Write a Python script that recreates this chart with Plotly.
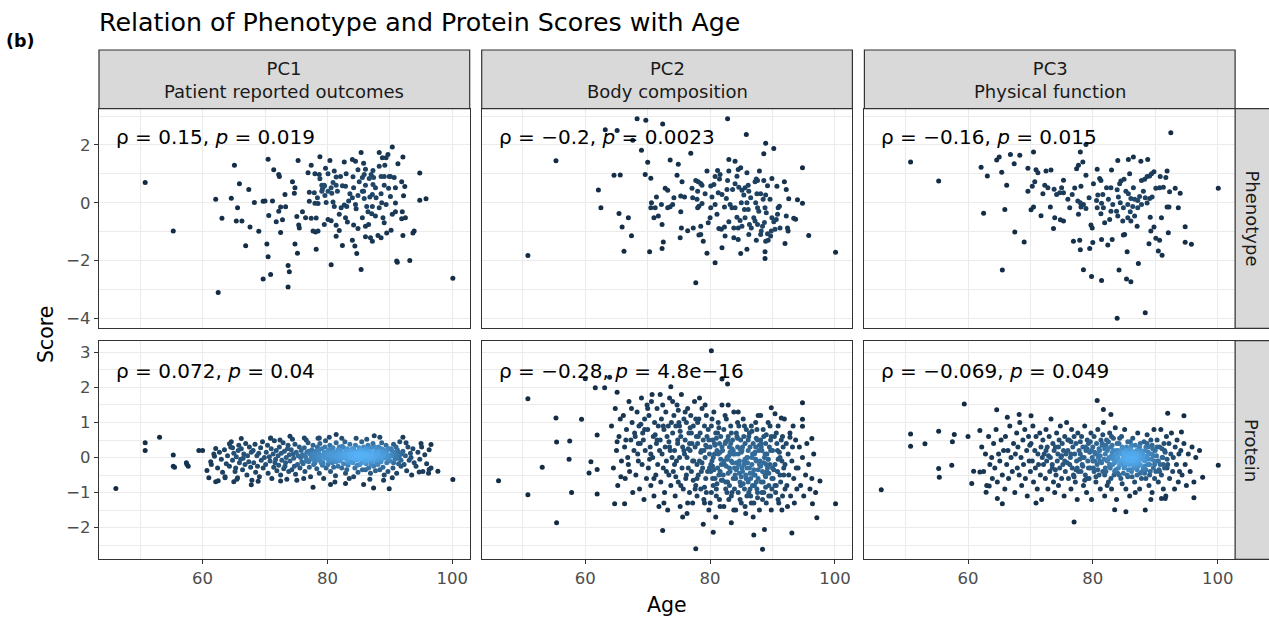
import numpy as np
import plotly.graph_objects as go

# ------------------------------------------------------------------ data
TITLE = "Relation of Phenotype and Protein Scores with Age"
PANEL_TAG = "(b)"
COLUMN_TITLES = [("PC1", "Patient reported outcomes"), ("PC2", "Body composition"), ("PC3", "Physical function")]
ROW_TITLES = ["Phenotype", "Protein"]
STATS = [["ρ = 0.15, <i>p</i> = 0.019", "ρ = −0.2, <i>p</i> = 0.0023", "ρ = −0.16, <i>p</i> = 0.015"],
         ["ρ = 0.072, <i>p</i> = 0.04", "ρ = −0.28, <i>p</i> = 4.8e−16", "ρ = −0.069, <i>p</i> = 0.049"]]
X_LABEL = "Age"
Y_LABEL = "Score"
X_TICKS = [60, 80, 100]
X_MINOR = [50, 70, 90]
Y_TICKS = [[-4, -2, 0, 2], [-2, -1, 0, 1, 2, 3]]
Y_MINOR = [[-3, -1, 1, 3], [-2.5, -1.5, -0.5, 0.5, 1.5, 2.5]]

# (age, score) pairs
PHENO_PC1 = [(50.8,0.70),(55.3,-0.98),(62.5,-3.11),(62.1,0.12),(63.1,-0.54),(65.1,1.30),(64.6,0.16),(65.6,-0.17),(65.9,0.66),(65.4,-0.63),(66.3,-0.63),(67.4,0.46),(67.6,-0.84),(66.9,-1.49),(68.3,0.01),(69.0,-0.99),(69.7,0.05),(70.0,0.06),(71.2,0.06),(70.5,1.51),(71.4,1.14),(72.2,0.98),(72.3,0.91),(70.6,-0.44),(70.3,-1.43),(70.5,-1.87),(69.7,-2.64),(70.9,-2.48),(71.8,-0.66),(72.2,-0.29),(72.5,-0.15),(73.3,-0.14),(72.8,-0.59),(72.5,-1.03),(73.2,0.29),(74.4,0.73),(74.8,0.52),(74.7,0.33),(73.7,-2.17),(73.9,-2.39),(73.7,-2.92),(74.8,-1.43),(75.2,-1.75),(75.3,1.46),(75.1,-0.48),(75.4,-0.77),(75.5,-0.87),(76.0,-0.31),(76.5,-0.52),(77.4,1.30),(76.9,1.04),(77.1,0.05),(77.4,-0.54),(78.2,-0.53),(77.7,-0.98),(78.1,-1.01),(78.5,-0.98),(78.2,-1.61),(78.8,1.59),(78.0,1.00),(78.7,0.98),(78.8,0.83),(79.7,1.19),(80.1,1.00),(80.4,1.46),(77.9,0.35),(78.4,0.17),(78.0,-0.02),(78.5,-0.03),(79.2,0.48),(79.1,0.61),(79.5,0.57),(79.8,0.01),(80.1,-0.58),(79.5,-0.75),(80.6,-0.62),(81.4,-0.78),(81.4,-1.16),(80.6,-2.15),(81.1,1.10),(81.4,0.89),(80.9,0.70),(80.1,0.40),(80.7,0.33),(81.4,0.61),(81.6,0.40),(80.9,0.03),(81.1,-0.13),(81.9,-0.40),(82.2,-0.17),(82.4,-1.48),(82.7,1.41),(83.0,1.00),(82.4,0.59),(82.9,0.57),(82.7,-0.08),(82.9,-0.52),(83.2,-0.67),(83.1,-0.13),(84.0,1.50),(84.5,1.44),(84.9,1.14),(85.4,1.74),(85.8,1.37),(86.1,1.16),(85.6,0.87),(85.1,0.73),(84.2,0.52),(84.9,0.25),(84.5,-0.06),(84.6,-0.21),(84.2,-0.77),(84.9,-0.89),(84.0,-1.30),(84.4,-1.50),(84.7,-1.76),(85.4,-2.31),(85.6,0.40),(86.1,0.61),(85.9,0.15),(85.6,-0.52),(86.1,-0.81),(86.6,-0.75),(86.1,-1.18),(86.9,-1.21),(87.2,-1.33),(86.5,-0.31),(87.1,-0.38),(87.7,-0.46),(86.8,0.20),(87.2,-0.13),(87.0,0.98),(87.3,1.12),(86.7,0.84),(87.3,0.63),(87.7,0.52),(87.2,0.29),(88.3,1.74),(88.8,1.56),(89.4,1.56),(89.7,1.67),(89.2,1.30),(88.3,1.26),(88.6,0.91),(89.1,0.91),(88.6,0.31),(88.7,0.00),(88.3,-0.17),(88.9,-0.52),(89.1,-0.69),(88.1,-1.13),(88.6,-1.21),(89.5,-1.05),(90.2,-0.95),(90.4,1.93),(89.9,0.91),(90.7,0.87),(89.8,0.50),(90.1,0.22),(90.9,0.52),(90.9,-0.01),(90.9,-0.31),(91.3,1.35),(92.1,1.58),(91.9,0.73),(92.4,0.56),(92.2,0.24),(92.0,-0.31),(91.9,-0.55),(92.5,-0.52),(92.1,-1.13),(91.1,-2.02),(91.2,-2.06),(93.2,-2.00),(93.9,-0.98),(93.7,-1.05),(94.8,1.03),(94.8,0.09),(95.8,0.14),(100.1,-2.61),(84.1,0.90),(83.6,0.31),(84.0,0.17),(87.8,0.17),(85.9,0.98),(79.6,0.25),(77.1,0.36),(80.6,0.52),(82.1,0.91),(83.4,0.06),(89.1,0.61),(90.1,0.91),(89.4,-0.06),(87.4,0.87),(90.4,-0.40),(81.9,-0.96),(85.8,0.40),(79.1,0.40),(79.5,0.61),(86.3,-0.13)]

PHENO_PC2 = [(50.8,-1.83),(55.3,1.45),(62.1,0.44),(62.5,-0.17),(63.2,2.53),(65.1,2.50),(64.6,0.95),(65.6,0.96),(65.4,-0.37),(66.9,-0.52),(65.9,-0.84),(67.4,-1.14),(66.2,-1.68),(67.6,2.16),(68.3,2.91),(69.7,2.86),(69.0,1.82),(70.0,1.40),(69.6,0.98),(70.5,0.85),(72.4,2.73),(70.3,-1.70),(72.3,-1.58),(72.5,-1.36),(72.3,-0.75),(71.4,0.20),(70.6,0.00),(70.5,-0.17),(71.0,-0.52),(71.2,-0.17),(71.7,-0.46),(72.2,-0.06),(72.8,0.50),(73.2,0.43),(73.2,-0.17),(73.6,-0.14),(74.0,-0.06),(74.2,0.17),(73.6,1.48),(74.9,1.33),(74.7,0.95),(75.3,0.23),(75.9,0.20),(75.5,0.73),(75.3,-0.31),(75.4,-0.87),(75.2,-1.21),(76.4,-0.97),(77.3,-0.87),(76.9,1.71),(77.2,0.17),(77.1,0.50),(77.7,0.77),(78.1,0.73),(78.5,0.67),(78.7,0.61),(78.0,0.40),(77.9,0.12),(78.2,-0.12),(78.0,-0.17),(78.7,-0.03),(78.5,-0.81),(78.2,-1.12),(78.5,-1.10),(78.9,-1.33),(79.5,-1.75),(77.7,-2.77),(80.8,-2.08),(81.9,-1.56),(80.1,-0.17),(80.0,-0.52),(79.7,-0.69),(79.2,0.31),(79.5,1.10),(80.1,0.58),(80.6,0.63),(80.8,0.91),(81.2,1.12),(81.6,0.98),(81.5,0.82),(81.9,0.29),(81.3,0.35),(81.1,-0.40),(81.4,-0.89),(81.8,-0.92),(82.4,-1.15),(82.8,2.91),(83.0,1.50),(83.0,1.10),(82.8,0.77),(82.7,0.46),(82.6,0.15),(83.2,-0.06),(83.5,-0.17),(83.0,-0.66),(83.8,-0.87),(83.8,-1.21),(84.5,-1.27),(84.9,-1.76),(84.0,1.44),(84.5,1.15),(84.9,1.21),(84.3,0.92),(84.0,0.66),(84.6,0.54),(85.1,0.43),(85.4,0.27),(85.0,0.00),(84.3,-0.50),(84.8,-0.61),(84.5,-0.87),(85.6,-0.52),(85.8,2.36),(85.9,1.04),(85.6,0.52),(86.1,0.61),(86.2,0.40),(86.5,0.17),(86.1,-0.23),(86.3,-0.75),(86.2,-1.10),(85.9,-1.61),(87.2,0.73),(87.4,0.82),(87.6,0.77),(87.9,1.10),(87.5,0.31),(87.3,0.00),(87.6,-0.17),(87.2,-0.63),(87.6,-0.75),(88.1,-1.10),(87.4,-1.30),(88.6,1.70),(88.9,2.06),(90.2,1.88),(88.6,0.77),(89.2,0.59),(88.9,0.27),(88.5,0.12),(88.8,-0.17),(89.0,-0.35),(88.7,-0.68),(88.4,-0.81),(89.2,-1.07),(88.9,-1.33),(89.3,-1.30),(88.8,-1.70),(88.8,-1.93),(89.9,0.84),(89.9,-0.52),(90.2,-0.66),(89.8,-0.98),(89.7,-1.15),(90.4,-0.92),(90.7,0.57),(90.9,-0.17),(91.1,-0.12),(90.8,-0.40),(90.6,-0.58),(91.2,-0.87),(91.9,0.73),(92.2,0.46),(92.2,-0.46),(92.4,-0.87),(92.5,-0.98),(92.0,-1.41),(92.6,0.14),(93.4,-0.54),(93.7,-0.57),(94.0,0.10),(94.8,-0.02),(94.8,1.21),(95.8,-1.13),(100.1,-1.71),(80.8,-0.06),(82.3,-0.15),(80.3,0.20),(84.0,-0.17),(85.5,-0.23),(87.8,-0.29),(87.0,-0.52),(83.6,0.46),(88.1,0.31),(89.6,0.12),(82.3,-0.84),(85.1,-0.81),(86.6,-0.87),(88.2,-0.98),(85.9,0.00)]

PHENO_PC3 = [(50.8,1.41),(55.3,0.75),(62.1,1.23),(63.1,0.93),(62.5,-0.36),(64.6,1.48),(65.0,1.58),(65.4,1.06),(66.2,0.61),(65.9,-0.23),(67.5,-1.01),(65.5,-2.33),(66.8,1.67),(67.4,1.35),(68.3,1.64),(69.0,-1.36),(69.6,1.19),(69.6,0.40),(70.3,0.57),(70.5,1.76),(70.9,1.14),(71.2,1.04),(70.7,0.73),(70.5,-0.15),(70.1,-0.24),(71.7,-0.45),(72.3,0.61),(72.5,1.10),(73.3,1.13),(72.0,0.31),(72.8,0.52),(73.2,-0.15),(73.8,0.47),(74.2,0.29),(74.7,0.35),(75.3,0.78),(75.0,0.52),(75.3,0.35),(73.9,-0.52),(74.8,-0.59),(75.3,-0.63),(73.7,-0.89),(76.0,0.12),(76.9,-1.33),(77.1,0.51),(77.4,1.18),(77.7,1.30),(78.0,1.76),(78.4,1.41),(78.9,0.95),(78.1,0.57),(77.6,0.06),(78.0,0.00),(78.1,-0.15),(78.5,-0.06),(78.9,-0.20),(77.7,-0.40),(77.9,-1.30),(78.0,-1.63),(78.9,2.02),(78.5,-2.32),(79.8,-2.55),(79.5,-1.58),(80.0,-1.38),(79.7,-0.77),(79.9,-0.87),(79.4,0.17),(80.1,0.66),(80.7,1.16),(81.1,0.84),(81.3,0.77),(80.8,0.27),(81.6,0.29),(81.4,-0.02),(80.7,-0.17),(81.7,-0.17),(81.3,-0.38),(81.9,-0.69),(82.7,-0.58),(81.4,-1.27),(82.4,-1.46),(83.1,-1.27),(81.4,-2.69),(83.0,1.13),(82.9,0.52),(82.5,0.12),(83.2,-0.06),(84.0,1.46),(84.3,0.66),(84.5,0.75),(83.9,0.45),(84.1,0.20),(84.4,0.00),(83.8,-0.29),(84.0,-0.46),(84.8,-0.63),(85.1,-1.10),(84.9,-1.12),(85.5,-1.70),(84.2,-2.33),(85.4,-2.64),(86.1,-2.73),(83.9,-4.00),(88.4,-3.81),(85.7,1.50),(86.5,1.58),(87.7,1.44),(88.8,1.50),(85.9,1.00),(85.0,0.81),(85.3,0.40),(85.7,0.31),(86.5,0.52),(86.1,0.15),(85.6,-0.06),(86.4,-0.13),(86.0,-0.31),(85.6,-0.52),(86.1,-0.63),(86.7,-0.46),(87.1,-0.81),(87.3,-2.10),(87.2,0.08),(87.5,0.22),(87.8,0.77),(88.3,0.81),(88.7,0.91),(89.1,0.93),(89.4,1.00),(89.8,1.07),(88.1,0.40),(88.4,0.17),(88.7,-0.01),(89.1,0.15),(89.5,0.20),(89.2,-0.50),(89.3,-0.98),(89.0,-1.42),(90.1,0.50),(90.7,0.52),(91.3,0.54),(90.8,0.91),(91.7,0.87),(91.9,1.10),(91.0,-0.52),(89.8,-0.84),(90.1,-1.23),(90.7,-1.30),(90.5,-1.67),(91.1,-1.82),(91.9,-0.15),(92.2,-0.15),(92.1,-1.04),(92.5,2.42),(92.3,0.38),(93.2,0.50),(94.0,0.33),(93.7,-0.17),(94.8,-0.83),(94.8,-1.37),(95.8,-1.44),(100.1,0.50),(87.2,-0.17),(87.8,-0.06),(82.9,-0.29),(82.2,0.52),(84.9,-0.17),(86.7,0.12),(80.6,0.08),(76.7,0.29),(76.3,-0.17)]

PROT_PC1 = [(46.1,-0.88),(50.8,0.42),(50.8,0.20),(53.1,0.58),(55.3,0.07),(55.3,-0.25),(55.5,-0.28),(57.4,-0.15),(57.7,-0.25),(57.5,-0.20),(59.4,0.20),(60.0,0.20),(60.7,-0.37),(61.0,-0.58),(61.4,-0.20),(62.1,0.26),(61.9,0.04),(62.1,-0.69),(62.5,-0.66),(63.6,-0.58),(64.3,0.39),(64.8,0.28),(65.0,-0.69),(65.6,-0.58),(66.2,0.54),(67.8,-0.78),(70.9,0.56),(72.5,-0.67),(74.0,0.61),(76.3,0.56),(77.7,-0.85),(78.7,0.56),(80.5,-0.77),(81.4,0.66),(82.9,-0.74),(85.8,-0.77),(87.4,-0.87),(87.5,0.62),(89.9,-0.89),(92.1,0.58),(96.6,0.37),(97.7,-0.39),(100.1,-0.63),(96.2,-0.45),(96.3,-0.34),(94.7,-0.41),
    (61.3,-0.12),(61.8,0.10),(62.4,-0.30),(62.7,0.15),(63.0,-0.05),(63.2,-0.42),(63.5,0.22),(63.8,-0.18),(64.0,0.05),(63.6,-0.55),
    (64.3,-0.25),(64.5,0.30),(64.8,-0.08),(65.0,0.12),(65.2,-0.40),(65.4,0.02),(65.5,-0.62),(65.7,0.20),(65.9,-0.15),(64.6,0.45),(65.3,-0.30),(65.8,0.35),
    (66.1,-0.05),(66.2,0.25),(66.4,-0.35),(66.6,0.10),(66.8,-0.20),(66.9,0.40),(67.1,-0.50),(67.2,0.05),(67.4,-0.12),(67.5,0.30),(67.7,-0.28),(67.8,0.15),(67.9,-0.65),(66.5,-0.02),
    (68.1,0.20),(68.2,-0.15),(68.4,0.38),(68.5,-0.42),(68.7,0.05),(68.8,-0.25),(69.0,0.12),(69.1,-0.55),(69.3,0.28),(69.4,-0.08),(69.6,0.45),(69.7,-0.30),(69.9,0.00),(68.9,-0.68),
    (70.1,-0.20),(70.2,0.15),(70.4,0.35),(70.5,-0.45),(70.7,0.02),(70.8,-0.10),(71.0,0.25),(71.1,-0.60),(71.3,0.10),(71.4,-0.28),(71.5,0.48),(71.7,-0.05),(71.8,0.20),(71.9,-0.38),(70.9,0.55),(71.6,-0.15),
    (72.1,0.05),(72.2,-0.22),(72.3,0.30),(72.5,-0.50),(72.6,0.12),(72.7,-0.08),(72.9,0.42),(73.0,-0.32),(73.1,0.18),(73.3,-0.15),(73.4,0.00),(73.5,-0.62),(73.6,0.25),(73.8,-0.40),(73.9,0.08),(72.4,0.50),(73.2,-0.25),(73.7,0.35),
    (74.0,-0.10),(74.2,0.22),(74.3,-0.35),(74.5,0.10),(74.6,-0.02),(74.8,0.38),(74.9,-0.48),(75.0,0.15),(75.2,-0.20),(75.3,0.05),(75.5,0.30),(75.6,-0.30),(75.7,0.00),(75.9,-0.12),(74.4,0.52),(75.1,-0.65),(75.8,0.20),(74.7,-0.25),
    (76.0,0.08),(76.1,-0.18),(76.3,0.28),(76.4,-0.40),(76.5,0.02),(76.7,0.15),(76.8,-0.08),(76.9,0.42),(77.1,-0.28),(77.2,0.10),(77.3,-0.55),(77.5,0.22),(77.6,-0.05),(77.7,0.35),(77.8,-0.20),(77.9,0.00),(76.2,-0.60),(76.6,0.50),(77.0,-0.12),(77.4,0.05),
    (78.0,-0.15),(78.1,0.18),(78.2,0.05),(78.3,-0.32),(78.4,0.30),(78.5,-0.05),(78.6,0.12),(78.7,-0.45),(78.8,0.40),(78.9,-0.10),(79.0,0.02),(79.1,0.25),(79.2,-0.22),(79.3,0.08),(79.4,-0.60),(79.5,0.15),(79.6,-0.02),(79.7,0.48),(79.8,-0.30),(79.9,0.10),(78.5,0.55),(79.3,-0.15),
    (80.0,0.05),(80.1,-0.20),(80.2,0.22),(80.3,-0.05),(80.4,0.35),(80.5,-0.40),(80.6,0.10),(80.7,0.00),(80.8,-0.15),(80.9,0.28),(81.0,-0.28),(81.1,0.15),(81.2,0.05),(81.3,-0.52),(81.4,0.42),(81.5,-0.08),(81.6,0.18),(81.7,-0.25),(81.8,0.02),(81.9,0.30),(80.3,0.58),(81.2,-0.70),(80.8,0.12),(81.6,-0.02),
    (82.0,-0.10),(82.1,0.20),(82.2,0.05),(82.3,-0.30),(82.4,0.32),(82.5,0.00),(82.6,-0.18),(82.7,0.12),(82.8,0.45),(82.9,-0.45),(83.0,0.08),(83.1,-0.05),(83.2,0.25),(83.3,-0.22),(83.4,0.15),(83.5,-0.60),(83.6,0.38),(83.7,0.02),(83.8,-0.12),(83.9,0.18),(82.3,0.55),(82.9,-0.02),(83.4,0.10),(83.1,-0.35),(82.6,0.28),(83.8,0.05),
    (84.0,0.10),(84.1,-0.15),(84.2,0.25),(84.3,0.02),(84.4,-0.30),(84.5,0.35),(84.6,0.08),(84.7,-0.08),(84.8,0.18),(84.9,-0.42),(85.0,0.05),(85.1,0.28),(85.2,-0.20),(85.3,0.12),(85.4,-0.02),(85.5,0.45),(85.6,-0.35),(85.7,0.15),(85.8,0.00),(85.9,-0.12),(84.2,-0.55),(84.6,0.55),(85.0,-0.05),(85.3,0.22),(85.6,0.08),(84.8,-0.22),(85.8,0.30),(84.4,0.12),
    (86.0,0.05),(86.1,0.22),(86.2,-0.18),(86.3,0.12),(86.4,-0.05),(86.5,0.35),(86.6,-0.30),(86.7,0.18),(86.8,0.00),(86.9,-0.45),(87.0,0.28),(87.1,0.08),(87.2,-0.12),(87.3,0.40),(87.4,-0.25),(87.5,0.15),(87.6,0.02),(87.7,-0.38),(87.8,0.25),(87.9,-0.08),(86.3,0.52),(86.8,-0.62),(87.2,0.10),(87.6,0.30),(86.5,-0.10),(87.0,-0.20),(87.9,0.12),(86.1,-0.35),
    (88.0,0.10),(88.1,-0.20),(88.2,0.30),(88.3,0.00),(88.4,-0.35),(88.5,0.18),(88.6,-0.08),(88.7,0.42),(88.8,0.05),(88.9,-0.28),(89.0,0.22),(89.1,-0.50),(89.2,0.12),(89.3,-0.02),(89.4,0.35),(89.5,-0.15),(89.6,0.08),(89.7,-0.40),(89.8,0.25),(89.9,0.00),(88.4,0.58),(89.0,-0.65),(88.8,0.15),(89.5,0.20),
    (90.0,-0.10),(90.2,0.25),(90.3,0.05),(90.5,-0.30),(90.6,0.38),(90.8,-0.05),(90.9,0.15),(91.1,-0.45),(91.2,0.22),(91.4,-0.18),(91.5,0.02),(91.6,0.45),(91.8,-0.25),(91.9,0.10),(90.4,-0.58),(91.0,0.30),(91.3,-0.02),(90.7,0.12),
    (92.1,0.18),(92.3,-0.20),(92.5,0.05),(92.7,-0.38),(92.9,0.30),(93.1,-0.08),(93.3,0.12),(93.5,-0.50),(93.7,0.25),(93.9,-0.15),(92.6,0.42),(93.4,0.00),
    (94.2,-0.25),(94.5,0.15),(94.8,-0.05),(95.1,0.30),(95.3,-0.40),(95.6,0.08),(95.9,-0.18),(96.3,0.22),(96.6,-0.30),(95.0,0.40),
    (76.2,0.05),(76.6,-0.10),(77.0,0.18),(77.4,-0.02),(77.8,0.10),(78.2,-0.08),(78.6,0.20),(79.0,-0.15),(79.4,0.02),(79.8,0.15),(80.2,-0.10),(80.6,0.25),(81.0,0.08),(81.4,-0.12),(81.8,0.12),(82.2,-0.05),(82.6,0.05),(83.0,0.20),(83.4,-0.15),(83.8,0.08),(84.2,-0.02),(84.6,0.15),(85.0,0.00),(85.4,0.20),(85.8,-0.08),(86.2,0.10),(86.6,0.02),(87.0,0.15),(87.4,-0.05),(87.8,0.05),(88.2,0.12),(88.6,-0.12),(89.0,0.05),(89.4,0.18),(89.8,-0.05),(90.2,0.08),(90.6,-0.15),(91.0,0.05),(91.4,0.15),(91.8,-0.08),
    (80.0,0.15),(80.9,-0.05),(81.7,0.22),(82.4,0.10),(83.2,-0.08),(84.0,0.25),(84.7,0.05),(85.5,-0.15),(86.3,0.25),(87.1,-0.02),(87.9,-0.18),(88.7,0.25),(89.5,0.00),(90.3,0.20),(78.8,0.00),(79.6,0.30),(83.6,0.00),(85.2,0.10),(86.9,0.08),(88.4,0.02)]

PROT_PC2 = [(46.1,-0.66),(50.8,1.68),(50.8,-1.06),(53.1,-0.28),(55.3,1.13),(55.4,0.44),(55.4,-1.86),(57.5,0.47),(57.4,-0.05),(57.8,-1.00),(59.4,1.09),(60.0,2.25),(61.6,1.99),(63.1,1.99),(63.9,2.29),(65.1,1.86),(61.9,0.64),(60.9,-0.12),(60.6,-0.44),(61.9,-0.34),(61.9,-1.04),(64.7,-1.32),(66.3,-1.32),(72.4,-2.08),(77.7,-2.60),(80.2,3.05),(81.9,2.24),(82.8,2.10),(73.7,2.02),(80.5,-2.13),(83.4,-1.86),(87.0,-2.21),(88.7,-2.05),(88.4,-2.62),(93.1,-2.15),(100.1,-1.32),(97.1,-1.72),(97.6,-0.67),(96.4,-1.32),(96.3,0.54),(94.8,1.56),(94.8,1.09),(94.8,0.89),(92.8,0.58),(89.8,1.42),(90.4,1.25),(91.4,1.13),
    (64.2,0.9),(64.5,-0.3),(64.8,1.4),(65.0,0.2),(65.2,-0.8),(65.4,0.6),(65.6,1.1),(65.8,-0.1),(65.1,0.45),(65.7,-0.55),
    (66.1,1.2),(66.3,0.3),(66.4,-0.6),(66.6,0.8),(66.8,0.0),(67.0,1.6),(67.1,-0.4),(67.3,0.5),(67.5,1.0),(67.6,-1.0),(67.8,0.2),(67.9,0.7),(66.9,-0.2),(67.4,1.4),
    (68.0,0.6),(68.1,-0.5),(68.3,1.3),(68.4,0.1),(68.6,0.9),(68.7,-0.9),(68.8,0.4),(69.0,1.7),(69.1,-0.2),(69.2,0.7),(69.4,-1.2),(69.5,1.1),(69.6,0.2),(69.8,-0.6),(69.9,1.5),(68.5,-0.1),(69.3,0.5),(68.9,0.95),
    (70.0,0.8),(70.1,-0.3),(70.2,1.2),(70.4,0.3),(70.5,-0.8),(70.6,1.6),(70.8,0.0),(70.9,0.6),(71.0,-1.1),(71.1,1.0),(71.3,-0.5),(71.4,0.4),(71.5,1.4),(71.6,-0.2),(71.7,0.9),(71.8,-1.4),(71.9,0.2),(70.7,1.8),(71.2,0.65),(70.3,-0.05),
    (72.0,0.5),(72.1,-0.7),(72.2,1.1),(72.3,0.1),(72.4,1.5),(72.5,-0.3),(72.6,0.8),(72.7,-1.0),(72.8,0.3),(72.9,1.3),(73.0,-0.1),(73.1,0.6),(73.2,-1.5),(73.3,0.9),(73.4,-0.5),(73.5,1.7),(73.6,0.2),(73.7,-0.8),(73.8,1.0),(73.9,0.0),(72.6,-1.3),(73.4,0.45),
    (74.0,0.7),(74.1,-0.4),(74.2,1.2),(74.3,0.2),(74.4,-1.1),(74.5,0.9),(74.6,-0.1),(74.7,1.5),(74.8,0.4),(74.9,-0.7),(75.0,1.0),(75.1,0.0),(75.2,-1.4),(75.3,0.6),(75.4,1.8),(75.5,-0.3),(75.6,0.3),(75.7,-0.9),(75.8,1.1),(75.9,0.1),(74.5,-0.55),(75.2,0.75),(74.9,1.35),(75.6,-1.7),
    (76.0,0.5),(76.1,-0.6),(76.2,1.0),(76.3,0.0),(76.4,1.4),(76.5,-0.3),(76.6,0.7),(76.7,-1.0),(76.8,0.2),(76.9,1.2),(77.0,-0.4),(77.1,0.4),(77.2,-1.3),(77.3,0.9),(77.4,-0.1),(77.5,1.6),(77.6,0.3),(77.7,-0.8),(77.8,0.6),(77.9,-0.2),(76.3,-1.6),(76.8,0.85),(77.3,-0.65),(77.7,1.1),(76.5,0.25),(77.9,-1.1),
    (78.0,0.4),(78.1,-0.5),(78.2,1.1),(78.3,-0.1),(78.4,0.7),(78.5,-0.9),(78.6,0.2),(78.7,1.4),(78.8,-0.3),(78.9,0.5),(79.0,-1.2),(79.1,0.9),(79.2,0.0),(79.3,-0.6),(79.4,1.2),(79.5,0.3),(79.6,-0.4),(79.7,0.8),(79.8,-1.5),(79.9,0.1),(78.3,1.7),(78.7,-0.15),(79.1,-0.85),(79.5,0.6),(79.9,-0.3),(78.5,0.15),(79.3,0.35),(78.9,-1.9),
    (80.0,0.3),(80.1,-0.4),(80.2,0.9),(80.3,-0.1),(80.4,0.5),(80.5,-0.8),(80.6,1.3),(80.7,0.1),(80.8,-0.6),(80.9,0.7),(81.0,-1.1),(81.1,0.2),(81.2,-0.3),(81.3,1.0),(81.4,-0.5),(81.5,0.4),(81.6,-1.4),(81.7,0.6),(81.8,-0.2),(81.9,1.5),(80.2,-1.0),(80.5,0.0),(80.8,0.35),(81.1,-0.75),(81.4,0.85),(81.7,-0.05),(80.4,-0.25),(81.0,0.55),(81.6,0.15),(80.9,-1.7),
    (82.0,0.2),(82.1,-0.5),(82.2,0.8),(82.3,-0.2),(82.4,0.4),(82.5,-0.9),(82.6,1.1),(82.7,0.0),(82.8,-0.7),(82.9,0.6),(83.0,-1.2),(83.1,0.3),(83.2,-0.4),(83.3,0.9),(83.4,-0.1),(83.5,-1.0),(83.6,0.5),(83.7,-0.6),(83.8,1.3),(83.9,-0.3),(82.2,-1.4),(82.5,0.45),(82.8,-0.05),(83.1,-0.8),(83.4,0.7),(83.7,0.1),(82.0,-0.65),(82.6,-0.25),(83.2,0.15),(83.8,-1.5),(82.9,1.5),(83.5,0.25),
    (84.0,0.1),(84.1,-0.6),(84.2,0.7),(84.3,-0.3),(84.4,0.3),(84.5,-1.0),(84.6,0.9),(84.7,-0.1),(84.8,-0.7),(84.9,0.5),(85.0,-1.3),(85.1,0.2),(85.2,-0.4),(85.3,1.1),(85.4,-0.2),(85.5,-0.9),(85.6,0.4),(85.7,-0.5),(85.8,0.8),(85.9,0.0),(84.1,-1.5),(84.4,0.55),(84.7,-0.45),(85.0,0.15),(85.3,-0.75),(85.6,-0.05),(85.9,-1.1),(84.2,-0.15),(84.8,0.25),(85.4,0.6),(85.7,-1.6),(84.5,1.3),(85.1,-0.3),(85.8,-0.6),
    (86.0,0.0),(86.1,-0.7),(86.2,0.6),(86.3,-0.3),(86.4,0.3),(86.5,-1.1),(86.6,0.9),(86.7,-0.2),(86.8,-0.8),(86.9,0.4),(87.0,-1.3),(87.1,0.1),(87.2,-0.5),(87.3,1.0),(87.4,-0.1),(87.5,-0.9),(87.6,0.5),(87.7,-0.6),(87.8,0.2),(87.9,-1.5),(86.1,0.2),(86.4,-0.45),(86.7,0.75),(87.0,-0.35),(87.3,-0.05),(87.6,-1.15),(87.9,0.35),(86.2,-1.0),(86.8,0.1),(87.4,0.55),(86.5,-0.6),(87.1,-0.8),(87.7,1.2),(86.9,-1.7),
    (88.0,-0.1),(88.1,0.5),(88.2,-0.7),(88.3,0.2),(88.4,-0.4),(88.5,0.8),(88.6,-1.0),(88.7,0.0),(88.8,-0.5),(88.9,0.4),(89.0,-1.3),(89.1,0.1),(89.2,-0.3),(89.3,1.0),(89.4,-0.8),(89.5,0.3),(89.6,-0.2),(89.7,-1.1),(89.8,0.6),(89.9,-0.6),(88.2,0.3),(88.6,-0.15),(89.0,0.65),(89.4,-0.45),(89.8,-1.5),(88.4,-1.2),(88.9,-0.85),(89.3,-0.05),(89.7,0.2),(88.1,1.2),
    (90.0,0.2),(90.1,-0.6),(90.3,0.6),(90.4,-0.2),(90.5,-1.0),(90.7,0.4),(90.8,-0.4),(90.9,0.9),(91.0,-1.3),(91.2,0.0),(91.3,-0.7),(91.4,0.5),(91.5,-0.1),(91.6,-1.1),(91.7,0.3),(91.8,-0.5),(91.9,1.1),(90.2,-0.35),(90.6,-0.8),(91.1,0.15),(91.5,-1.5),(90.9,-0.05),
    (92.0,-0.2),(92.2,0.4),(92.3,-0.8),(92.5,0.1),(92.6,-0.5),(92.8,0.7),(92.9,-1.1),(93.1,-0.1),(93.2,0.3),(93.4,-0.6),(93.5,-1.3),(93.7,0.5),(93.8,-0.3),(93.9,-0.9),(92.4,-1.4),(93.3,0.9),
    (94.1,-0.3),(94.3,0.3),(94.5,-0.8),(94.8,0.0),(95.0,-1.1),(95.3,-0.5),(95.5,0.4),(95.8,-0.2),(96.0,-0.9),(96.3,-0.6),(96.6,0.1),(96.9,-1.0),
    (74.3,-0.2),(74.8,0.5),(75.3,-0.8),(75.8,0.2),(76.2,-0.5),(76.7,0.4),(77.2,-0.1),(77.6,-0.9),(78.1,0.6),(78.6,-0.4),(79.0,0.2),(79.4,-1.0),(79.8,0.5),(80.1,-0.2),(80.4,-0.6),(80.7,0.4),(81.0,-0.9),(81.3,0.1),(81.6,-0.4),(81.9,0.3),(82.2,-0.1),(82.5,-0.7),(82.8,0.5),(83.1,-0.3),(83.4,-1.1),(83.7,0.2),(84.0,-0.5),(84.3,0.6),(84.6,-0.2),(84.9,-0.8),(85.2,0.3),(85.5,-0.1),(85.8,-0.6),(86.1,0.5),(86.4,-0.9),(86.7,0.0),(87.0,-0.5),(87.3,0.3),(87.6,-1.0),(87.9,-0.2),(88.2,0.4),(88.5,-0.7),(88.8,0.1),(89.1,-0.4),(89.4,-1.1),(89.7,0.5),(90.0,-0.3),(90.4,-0.8),(90.8,0.2),(91.2,-0.5),(91.6,0.6),(92.0,-0.9),
    (75.1,0.9),(76.0,1.3),(77.0,0.7),(78.0,1.0),(79.2,1.5),(80.3,1.1),(81.2,0.7),(82.4,1.2),(83.3,0.4),(84.4,1.0),(85.5,0.9),(86.3,0.7),(87.5,0.8),(88.6,0.6),(89.6,0.9),(90.6,0.7),
    (76.4,-1.3),(77.9,-0.6),(79.1,-1.3),(80.0,-1.3),(81.5,-1.2),(82.7,-1.0),(83.9,-0.9),(84.8,-1.2),(85.6,-1.4),(86.6,-1.3),(87.4,-0.7),(88.3,-1.0),(89.0,-0.2),(89.9,-0.9),(90.9,-1.2),(91.8,-0.3),
    (80.6,-0.35),(81.8,-0.65),(82.9,-0.45),(83.6,-0.15),(84.2,-0.35),(85.0,-0.55),(85.9,-0.3),(86.8,-0.45),(87.7,-0.35),(88.9,-0.55),(83.0,0.05),(84.5,0.1),(86.0,-0.15),(87.2,0.15),(88.1,-0.25),(89.3,-0.05),
    (68.5,0.4),(69.5,0.8),(70.5,0.1),(71.5,0.5),(72.5,0.9),(73.5,0.3),(70.0,1.4),(72.0,1.8),(74.0,1.6),(71.0,-0.6),(73.0,-0.4),(66.5,0.5)]

PROT_PC3 = [(46.1,-0.92),(50.8,0.67),(50.8,0.32),(53.1,0.39),(55.3,0.75),(55.3,-0.31),(55.4,-0.56),(57.4,-0.22),(57.5,0.45),(57.8,0.66),(59.4,1.53),(60.0,0.60),(60.6,-0.74),(60.9,-0.39),(61.9,-0.41),(61.9,0.77),(62.9,-0.99),(63.4,-0.81),(64.6,1.36),(64.7,-1.17),(65.5,-1.32),(66.3,1.15),(68.2,1.23),(70.1,1.19),(70.9,-1.30),(77.0,-1.84),(80.7,1.63),(81.7,1.37),(82.9,1.23),(92.0,1.26),(94.6,1.19),(94.2,0.73),(97.1,0.20),(97.6,-0.56),(96.2,-1.15),(100.1,-0.22),(91.0,-1.17),(91.6,-1.17),(88.4,-1.50),(85.3,-1.55),(83.5,-1.49),
    (62.2,0.3),(62.5,-0.4),(62.8,0.1),(63.0,-0.8),(63.3,0.6),(63.5,-0.2),(63.8,0.0),(63.9,-0.6),
    (64.1,0.4),(64.3,-0.3),(64.5,0.8),(64.7,-0.7),(64.9,0.1),(65.1,-0.1),(65.3,0.5),(65.5,-0.5),(65.7,0.2),(65.9,-0.9),
    (66.0,0.6),(66.2,-0.2),(66.4,0.2),(66.5,-0.6),(66.7,0.9),(66.9,0.0),(67.1,-0.4),(67.3,0.4),(67.5,-1.0),(67.6,0.1),(67.8,0.7),(67.9,-0.3),
    (68.0,0.3),(68.2,-0.5),(68.3,1.0),(68.5,0.0),(68.6,-0.8),(68.8,0.5),(68.9,-0.2),(69.1,0.8),(69.2,-0.6),(69.4,0.2),(69.5,-1.1),(69.7,0.6),(69.8,-0.1),(69.9,0.35),
    (70.0,-0.4),(70.1,0.4),(70.3,-0.1),(70.4,0.9),(70.5,-0.7),(70.7,0.2),(70.8,-0.3),(70.9,0.6),(71.1,-0.9),(71.2,0.1),(71.3,-0.2),(71.5,0.7),(71.6,-0.5),(71.7,0.3),(71.8,-1.2),(71.9,0.0),
    (72.0,0.5),(72.1,-0.2),(72.2,0.1),(72.4,-0.6),(72.5,0.8),(72.6,-0.1),(72.7,0.3),(72.8,-0.9),(73.0,0.6),(73.1,-0.4),(73.2,0.0),(73.3,1.1),(73.5,-0.3),(73.6,0.4),(73.7,-0.7),(73.8,0.2),(73.9,-1.0),(72.9,0.05),
    (74.0,0.3),(74.1,-0.5),(74.2,0.7),(74.3,-0.1),(74.4,0.1),(74.5,-0.8),(74.6,0.5),(74.7,-0.3),(74.8,0.9),(74.9,0.0),(75.0,-0.6),(75.1,0.4),(75.2,-0.2),(75.3,0.2),(75.4,-1.1),(75.5,0.6),(75.6,-0.4),(75.7,0.1),(75.8,1.0),(75.9,-0.15),
    (76.0,0.2),(76.1,-0.6),(76.2,0.5),(76.3,-0.2),(76.4,0.0),(76.5,-0.9),(76.6,0.8),(76.7,-0.3),(76.8,0.3),(76.9,-0.5),(77.0,0.6),(77.1,0.1),(77.2,-0.7),(77.3,0.4),(77.4,-0.1),(77.5,-1.2),(77.6,0.7),(77.7,-0.4),(77.8,0.2),(77.9,-0.05),(76.5,0.45),(77.3,-0.35),
    (78.0,0.1),(78.1,-0.4),(78.2,0.6),(78.3,-0.2),(78.4,0.3),(78.5,-0.8),(78.6,0.0),(78.7,0.9),(78.8,-0.5),(78.9,0.2),(79.0,-1.0),(79.1,0.5),(79.2,-0.1),(79.3,0.4),(79.4,-0.6),(79.5,0.15),(79.6,-0.3),(79.7,0.7),(79.8,-1.2),(79.9,0.0),(78.4,-0.25),(79.1,0.25),(78.7,-0.65),(79.6,0.45),
    (80.0,0.3),(80.1,-0.3),(80.2,0.6),(80.3,-0.1),(80.4,0.1),(80.5,-0.7),(80.6,0.4),(80.7,-0.2),(80.8,0.8),(80.9,0.0),(81.0,-0.5),(81.1,0.2),(81.2,-0.9),(81.3,0.5),(81.4,-0.15),(81.5,0.35),(81.6,-0.4),(81.7,1.0),(81.8,-0.05),(81.9,-1.1),(80.3,0.15),(80.8,-0.35),(81.2,0.05),(81.6,0.65),(80.5,-0.55),(81.9,0.25),
    (82.0,0.1),(82.1,-0.4),(82.2,0.5),(82.3,-0.1),(82.4,0.25),(82.5,-0.7),(82.6,0.0),(82.7,0.7),(82.8,-0.3),(82.9,0.3),(83.0,-0.9),(83.1,0.15),(83.2,-0.2),(83.3,0.55),(83.4,-0.5),(83.5,0.05),(83.6,0.85),(83.7,-0.1),(83.8,-1.2),(83.9,0.4),(82.1,0.35),(82.5,-0.05),(82.9,-0.6),(83.3,0.2),(83.7,-0.35),(82.3,-0.8),(83.0,0.6),(83.5,-0.15),(83.9,0.1),(82.7,-0.25),
    (84.0,0.0),(84.1,-0.3),(84.2,0.4),(84.3,-0.1),(84.4,0.15),(84.5,-0.6),(84.6,0.6),(84.7,-0.2),(84.8,0.25),(84.9,-0.45),(85.0,0.05),(85.1,0.8),(85.2,-0.15),(85.3,-0.9),(85.4,0.3),(85.5,-0.05),(85.6,0.45),(85.7,-0.35),(85.8,0.1),(85.9,-1.1),(84.1,0.2),(84.5,-0.1),(84.9,0.05),(85.3,0.15),(85.7,-0.1),(84.3,0.55),(84.7,-0.75),(85.1,-0.25),(85.5,0.2),(85.9,0.0),(84.2,-0.5),(85.6,-0.55),
    (86.0,-0.1),(86.1,0.3),(86.2,-0.4),(86.3,0.1),(86.4,0.55),(86.5,-0.2),(86.6,0.0),(86.7,-0.7),(86.8,0.35),(86.9,-0.1),(87.0,0.2),(87.1,-0.5),(87.2,0.7),(87.3,-0.25),(87.4,0.05),(87.5,-0.9),(87.6,0.4),(87.7,-0.05),(87.8,0.15),(87.9,-0.4),(86.2,0.2),(86.6,-0.3),(87.0,-0.15),(87.4,0.3),(87.8,-0.6),(86.0,0.45),(86.4,-0.05),(86.8,-1.0),(87.2,0.0),(87.6,-0.2),(86.3,-0.55),(87.5,0.1),
    (88.0,0.1),(88.1,-0.3),(88.2,0.45),(88.3,-0.1),(88.4,0.2),(88.5,-0.6),(88.6,0.0),(88.7,0.65),(88.8,-0.2),(88.9,0.3),(89.0,-0.8),(89.1,0.1),(89.2,-0.4),(89.3,0.5),(89.4,-0.05),(89.5,-1.0),(89.6,0.25),(89.7,-0.3),(89.8,0.8),(89.9,-0.1),(88.3,-0.45),(88.7,0.05),(89.1,-0.2),(89.5,0.35),(89.9,-0.6),(88.5,0.3),(89.3,-1.2),(88.9,-0.05),
    (90.0,0.2),(90.1,-0.4),(90.3,0.5),(90.4,-0.1),(90.5,-0.7),(90.7,0.3),(90.8,-0.2),(90.9,0.8),(91.0,-0.5),(91.2,0.0),(91.3,-0.9),(91.4,0.4),(91.5,-0.3),(91.6,0.15),(91.7,-1.1),(91.8,0.6),(91.9,-0.05),(90.2,0.05),(90.6,-0.35),(91.1,0.25),
    (92.0,-0.2),(92.2,0.4),(92.3,-0.6),(92.5,0.1),(92.6,0.7),(92.8,-0.4),(92.9,0.0),(93.1,-0.9),(93.2,0.3),(93.4,-0.2),(93.5,0.5),(93.7,-0.7),(93.8,0.1),(93.9,-0.4),
    (94.1,0.2),(94.3,-0.5),(94.6,0.4),(94.8,-0.2),(95.0,-0.8),(95.3,0.1),(95.6,-0.4),(95.9,0.3),(96.2,-0.7),(96.5,0.0),
    (78.3,0.0),(78.8,0.3),(79.3,-0.3),(79.8,0.2),(80.2,-0.4),(80.7,0.1),(81.1,-0.1),(81.5,0.4),(81.9,-0.5),(82.3,0.2),(82.7,-0.2),(83.1,0.35),(83.5,-0.4),(83.9,0.0),(84.3,-0.2),(84.7,0.3),(85.1,-0.05),(85.5,-0.5),(85.9,0.25),(86.3,-0.2),(86.7,0.1),(87.1,-0.35),(87.5,0.3),(87.9,0.0),(88.3,-0.25),(88.7,0.4),(89.1,-0.5),(89.5,0.1),(89.9,-0.2),(90.3,0.3),(90.7,-0.4),(91.1,0.0),(91.5,0.2),(91.9,-0.3),
    (80.0,-0.1),(81.0,0.25),(82.0,-0.3),(83.0,0.05),(84.0,-0.45),(84.5,0.1),(85.0,-0.3),(85.4,0.05),(85.8,-0.2),(86.2,0.35),(86.5,-0.1),(86.9,0.0),(87.3,-0.15),(87.7,0.2),(88.1,-0.05),(88.5,-0.35),(88.9,0.15),(89.7,0.05),(90.5,-0.1),(91.3,-0.2),
    (72.5,0.2),(73.5,-0.2),(74.5,0.3),(75.5,-0.1),(76.5,0.1),(77.5,-0.3),(74.0,-0.35),(76.0,0.5),(77.0,-0.55),(75.0,0.05),(78.0,0.45),(79.0,-0.6),
    (84.8,-0.05),(85.2,0.2),(85.7,0.1),(86.1,-0.35),(86.4,0.15),(86.9,-0.25),(83.8,0.2),(84.6,-0.2),(87.0,0.05),(87.6,-0.45),(83.3,-0.05),(82.5,0.45)]

PANELS = [[PHENO_PC1, PHENO_PC2, PHENO_PC3], [PROT_PC1, PROT_PC2, PROT_PC3]]

# ------------------------------------------------------------------ layout geometry (pixels)
W, H = 1269, 617
COL_X = [(99.0, 469.7), (481.7, 852.4), (864.4, 1235.1)]
ROW_Y = [(108.7, 328.3), (340.7, 559.3)]
STRIP_TOP = 50.0
STRIP_RIGHT_X1 = 1275.0
FONT = "DejaVu Sans"
LOW, HIGH = "#132B43", "#56B1F7"
SIGMA = 8.0


def fx(x):
    return x / W


def fy(y):
    return 1 - y / H


def expand(lo, hi, f=0.05):
    d = (hi - lo) * f
    return [lo - d, hi + d]


ages = [a for row in PANELS for p in row for a, _ in p]
XR = expand(min(ages), max(ages))
YR = []
for row in PANELS:
    s = [v for p in row for _, v in p]
    YR.append(expand(min(s), max(s)))

# point density (in screen pixels) for the colour of each point
dens = {}
sx = (COL_X[0][1] - COL_X[0][0]) / (XR[1] - XR[0])
for r, row in enumerate(PANELS):
    sy = (ROW_Y[r][1] - ROW_Y[r][0]) / (YR[r][1] - YR[r][0])
    for c, pts in enumerate(row):
        a = np.array(pts, dtype=float)
        px, py = a[:, 0] * sx, a[:, 1] * sy
        d2 = (px[:, None] - px[None, :]) ** 2 + (py[:, None] - py[None, :]) ** 2
        dens[(r, c)] = np.exp(-d2 / (2 * SIGMA ** 2)).sum(axis=1)
dmin = min(v.min() for v in dens.values())
dmax = max(v.max() for v in dens.values())

fig = go.Figure()
layout = {}
grid = "#EBEBEB"
for r in range(2):
    for c in range(3):
        k = r * 3 + c + 1
        sfx = "" if k == 1 else str(k)
        pts = np.array(PANELS[r][c], dtype=float)
        d = dens[(r, c)]
        order = np.argsort(d)
        fig.add_trace(go.Scatter(
            x=pts[order, 0], y=pts[order, 1], mode="markers",
            xaxis="x" + sfx, yaxis="y" + sfx, showlegend=False, hoverinfo="skip",
            marker=dict(size=5, color=d[order], colorscale=[[0, LOW], [1, HIGH]],
                        cmin=dmin, cmax=dmax, line=dict(width=0))))
        x0, x1 = COL_X[c]
        y0, y1 = ROW_Y[r]
        layout["xaxis" + sfx] = dict(
            domain=[fx(x0), fx(x1)], range=XR, anchor="y" + sfx,
            tickmode="array", tickvals=X_TICKS, ticktext=[str(t) for t in X_TICKS],
            showticklabels=(r == 1), ticks="outside" if r == 1 else "",
            ticklen=4, tickwidth=1.1, tickcolor="#333333",
            tickfont=dict(family=FONT, size=16.5, color="#4D4D4D"),
            showgrid=True, gridcolor=grid, gridwidth=1.3,
            minor=dict(tickvals=X_MINOR, showgrid=True, gridcolor=grid, gridwidth=0.6, ticks=""),
            showline=True, mirror=True, linecolor="#333333", linewidth=1.3,
            zeroline=False, fixedrange=True)
        layout["yaxis" + sfx] = dict(
            domain=[fy(y1), fy(y0)], range=YR[r], anchor="x" + sfx,
            tickmode="array", tickvals=Y_TICKS[r],
            ticktext=[str(t).replace("-", "−") for t in Y_TICKS[r]],
            showticklabels=(c == 0), ticks="outside" if c == 0 else "",
            ticklen=4, tickwidth=1.1, tickcolor="#333333",
            tickfont=dict(family=FONT, size=16.5, color="#4D4D4D"),
            showgrid=True, gridcolor=grid, gridwidth=1.3,
            minor=dict(tickvals=Y_MINOR[r], showgrid=True, gridcolor=grid, gridwidth=0.6, ticks=""),
            showline=True, mirror=True, linecolor="#333333", linewidth=1.3,
            zeroline=False, fixedrange=True)

shapes = []
annotations = []
# column strips
for c, (a, b) in enumerate(COLUMN_TITLES):
    x0, x1 = COL_X[c]
    shapes.append(dict(type="rect", xref="paper", yref="paper", x0=fx(x0), x1=fx(x1),
                       y0=fy(ROW_Y[0][0]), y1=fy(STRIP_TOP), fillcolor="#D9D9D9",
                       line=dict(color="#333333", width=1.2), layer="above"))
    annotations.append(dict(xref="paper", yref="paper", x=fx((x0 + x1) / 2),
                            y=fy((STRIP_TOP + ROW_Y[0][0]) / 2 + 1), text=a + "<br>" + b,
                            showarrow=False, xanchor="center", yanchor="middle",
                            font=dict(family=FONT, size=18, color="#1A1A1A")))
# row strips
for r, t in enumerate(ROW_TITLES):
    y0, y1 = ROW_Y[r]
    shapes.append(dict(type="rect", xref="paper", yref="paper", x0=fx(COL_X[2][1]), x1=fx(STRIP_RIGHT_X1),
                       y0=fy(y1), y1=fy(y0), fillcolor="#D9D9D9",
                       line=dict(color="#333333", width=1.2), layer="above"))
    annotations.append(dict(xref="paper", yref="paper", x=fx(1252), y=fy((y0 + y1) / 2),
                            text=t, textangle=90, showarrow=False, xanchor="center", yanchor="middle",
                            font=dict(family=FONT, size=18, color="#1A1A1A")))
# correlation labels
for r in range(2):
    yc = [137.5, 370.5][r]
    for c in range(3):
        annotations.append(dict(xref="paper", yref="paper", x=fx(COL_X[c][0] + 15), y=fy(yc),
                                text=STATS[r][c], showarrow=False, xanchor="left", yanchor="middle",
                                font=dict(family=FONT, size=20, color="black")))
# titles
annotations.append(dict(xref="paper", yref="paper", x=fx(97), y=fy(22.5), text=TITLE, showarrow=False,
                        xanchor="left", yanchor="middle", font=dict(family=FONT, size=25.3, color="black")))
annotations.append(dict(xref="paper", yref="paper", x=fx(20.5), y=fy(41.5), text="<b>" + PANEL_TAG + "</b>",
                        showarrow=False, xanchor="center", yanchor="middle",
                        font=dict(family=FONT, size=17.5, color="black")))
annotations.append(dict(xref="paper", yref="paper", x=fx((COL_X[0][0] + COL_X[2][1]) / 2), y=fy(605),
                        text=X_LABEL, showarrow=False, xanchor="center", yanchor="middle",
                        font=dict(family=FONT, size=20.5, color="black")))
annotations.append(dict(xref="paper", yref="paper", x=fx(46), y=fy((ROW_Y[0][0] + ROW_Y[1][1]) / 2),
                        text=Y_LABEL, textangle=-90, showarrow=False, xanchor="center", yanchor="middle",
                        font=dict(family=FONT, size=20.5, color="black")))

fig.update_layout(width=W, height=H, margin=dict(l=0, r=0, t=0, b=0),
                  paper_bgcolor="white", plot_bgcolor="white",
                  shapes=shapes, annotations=annotations, **layout)
fig.write_html("out.html", config={"displayModeBar": False})
